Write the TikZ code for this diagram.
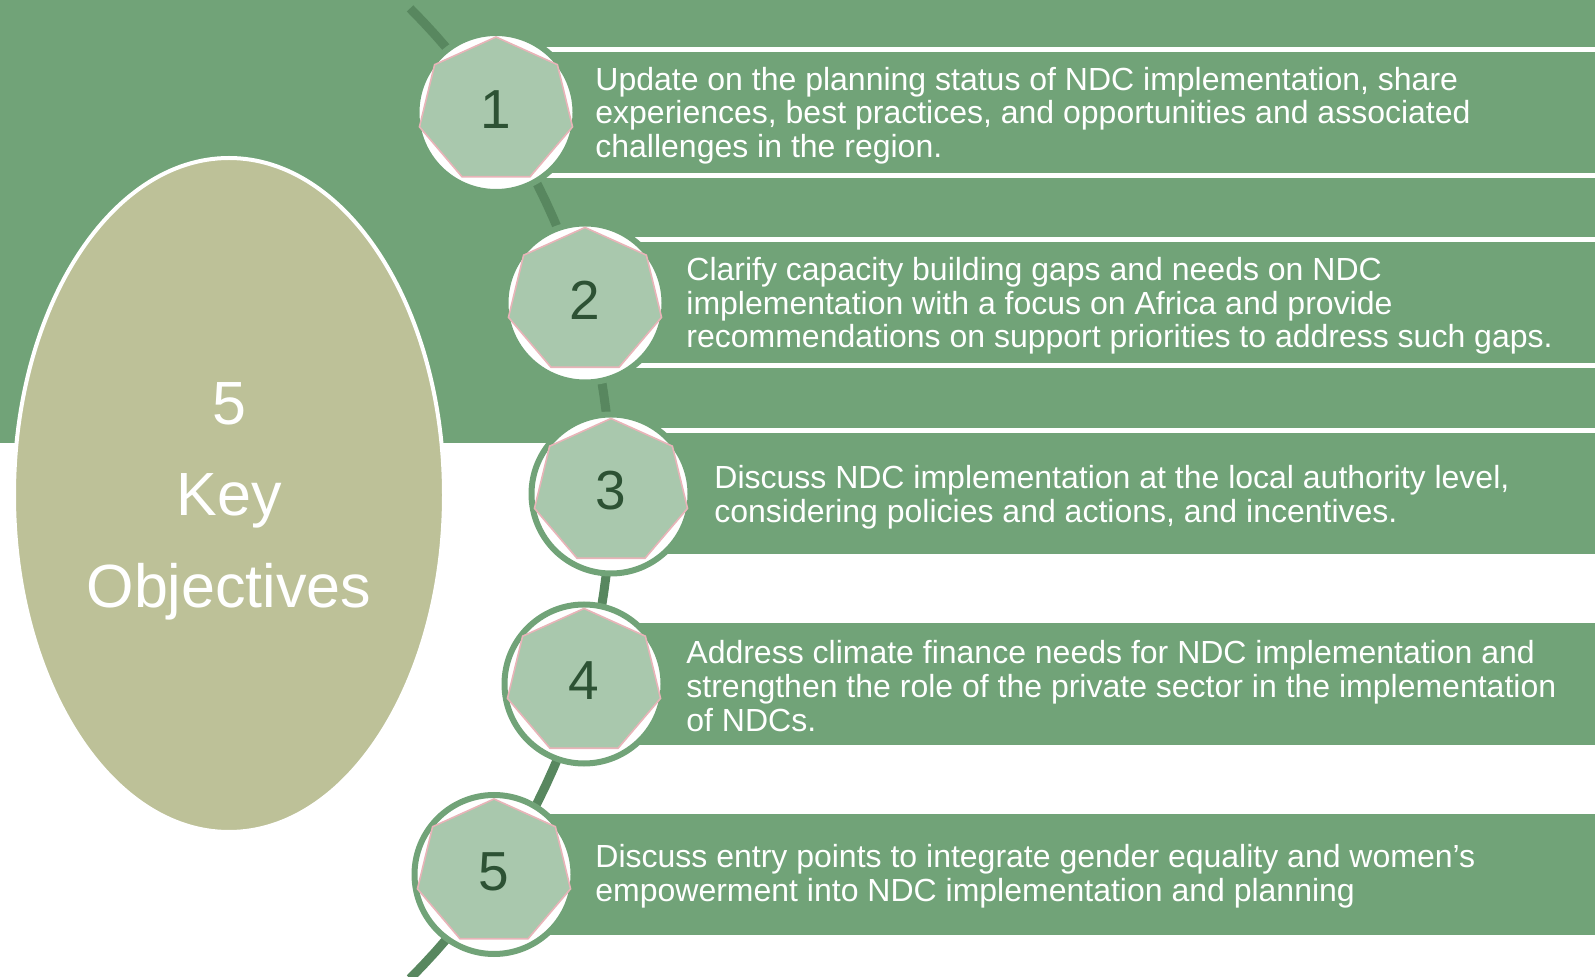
\documentclass[tikz,border=0pt]{standalone}
\usepackage{xcolor}
\usepackage{tikz}
\usepackage{fontspec}
\setmainfont{Liberation Sans}
\usetikzlibrary{calc,shapes.geometric}

\definecolor{leaf}{HTML}{71A378}
\definecolor{stem}{HTML}{58875F}
\definecolor{sage}{HTML}{A9C8AD}
\definecolor{blush}{HTML}{E8B4B8}
\definecolor{khaki}{HTML}{BDC198}
\definecolor{pine}{HTML}{2D5234}

\begin{document}
\begin{tikzpicture}[x=0.5pt,y=-0.5pt,
    bar/.style={fill=leaf, draw=white, line width=2.5pt},
    ring/.style={circle, fill=white, draw=leaf, line width=3pt, minimum size=79.5pt, inner sep=0pt},
    hept/.style={fill=sage, draw=blush, line width=0.8pt},
    num/.style={text=pine, font=\fontsize{27.5}{30}\selectfont, inner sep=0pt},
    goal/.style={text=white, align=left, anchor=west, inner sep=0pt, font=\fontsize{16}{16.8}\selectfont}]
        \clip (0,0) rectangle (1595,977);
        \def\rr{686}; %radius of the spine%
        \coordinate (hub) at (-75,493.5);
        \coordinate (c1) at (496,112.5);
        \coordinate (c2) at (585,303);
        \coordinate (c3) at (611,494);
        \coordinate (c4) at (584,684);
        \coordinate (c5) at (494,874.5);

        \fill[leaf] (0,0) rectangle (1595,443.5); %top band%
        \draw[bar] ($(c1)+(0,-63)$) rectangle ($(c1)+(1200,63)$);
        \draw[bar] ($(c2)+(0,-63)$) rectangle ($(c2)+(1200,63)$);
        \draw[bar] ($(c3)+(0,-63)$) rectangle ($(c3)+(1200,63)$);
        \draw[bar] ($(c4)+(0,-63)$) rectangle ($(c4)+(1200,63)$);
        \draw[bar] ($(c5)+(0,-63)$) rectangle ($(c5)+(1200,63)$);

  \node[ellipse, fill=khaki, draw=white, line width=2pt, minimum width=215pt, minimum height=337pt, inner sep=0pt] (key) at (229,495) {};
  \node[text=white, align=center, font=\fontsize{30.5}{45.75}\selectfont] (ttl) at ($(key)+(0,6)$) {5\\Key\\Objectives};

  \draw[stem, line width=4.5pt] plot[domain=-45:45, samples=60] ({-75+\rr*cos(\x)},{493.5+\rr*sin(\x)}); %spine%

  \foreach \i in {1,...,5}{
    \node[ring] (r\i) at (c\i) {};
    \draw[hept] ($(c\i)+(0,-2)$) +(-90:78.5 and 73.5) \foreach \k in {1,...,6}{-- +(-90+\k*360/7:78.5 and 73.5)} -- cycle;
    \node[num] (n\i) at ($(c\i)+(0,-3)$) {\i};
  }

  \node[goal] (t1) at ($(c1)+(99,3)$) {Update on the planning status of NDC implementation, share\\experiences, best practices, and opportunities and associated\\challenges in the region.};
  \node[goal] (t2) at ($(c2)+(101,3)$) {Clarify capacity building gaps and needs on NDC\\implementation with a focus on Africa and provide\\recommendations on support priorities to address such gaps.};
  \node[goal] (t3) at ($(c3)+(103,3)$) {Discuss NDC implementation at the local authority level,\\considering policies and actions, and incentives.};
  \node[goal] (t4) at ($(c4)+(102,2)$) {Address climate finance needs for NDC implementation and\\strengthen the role of the private sector in the implementation\\of NDCs.};
  \node[goal] (t5) at ($(c5)+(101,2)$) {Discuss entry points to integrate gender equality and women’s\\empowerment into NDC implementation and planning};
\end{tikzpicture}
\end{document}
